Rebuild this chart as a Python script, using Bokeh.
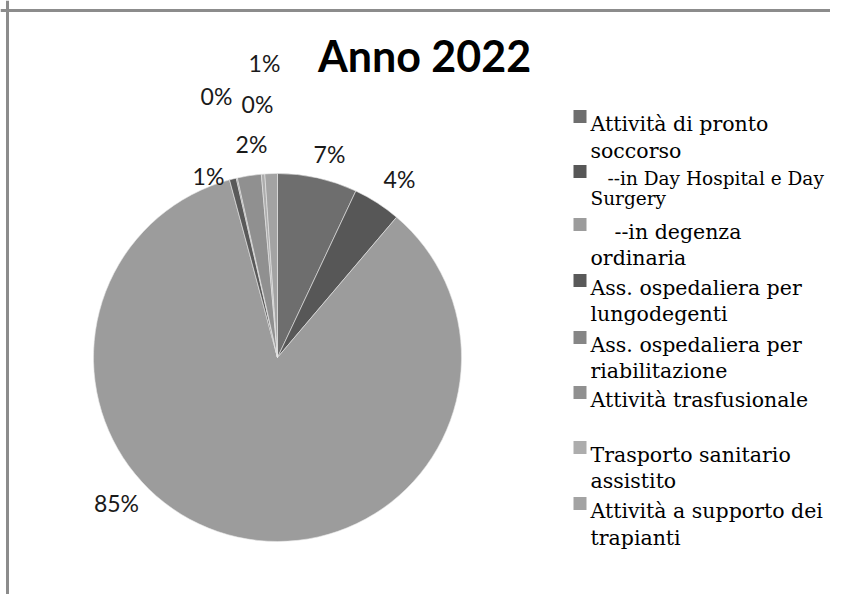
import numpy as np
from bokeh.plotting import figure
from bokeh.models import ColumnDataSource, Span, Range1d
from bokeh.core.properties import value
from bokeh.embed import file_html
from bokeh.resources import INLINE

# ---------------- data ----------------
title = "Anno 2022"
categories = [
    "Attività di pronto soccorso",
    "--in Day Hospital e Day Surgery",
    "--in degenza ordinaria",
    "Ass. ospedaliera per lungodegenti",
    "Ass. ospedaliera per riabilitazione",
    "Attività trasfusionale",
    "Trasporto sanitario assistito",
    "Attività a supporto dei trapianti",
]
shares = [7.0, 4.2, 84.6, 0.6, 0.1, 2.1, 0.3, 1.1]
legend_lines = [
    ["Attività di pronto", "soccorso"],
    ["--in Day Hospital e Day", "Surgery"],
    ["--in degenza", "ordinaria"],
    ["Ass. ospedaliera per", "lungodegenti"],
    ["Ass. ospedaliera per", "riabilitazione"],
    ["Attività trasfusionale"],
    ["Trasporto sanitario", "assistito"],
    ["Attività a supporto dei", "trapianti"],
]
colors = ["#6e6e6e", "#575757", "#9c9c9c", "#595959",
          "#868686", "#909090", "#adadad", "#a3a3a3"]

# ---------------- layout (page pixel coords) ----------------
W, H = 830, 594
OX, OY = 0, 0
def X(px):
    return px - OX
def Y(py):
    return H + OY - py

CX, CY, R = 277, 357, 184
label_pos = [(329, 153), (399, 178), (116, 502), (208, 175),
             (216, 95), (251, 143), (257, 103), (264, 62)]
base1 = [123, 178, 231, 287, 344, 399, 454, 510]
line_gap = [27, 20, 26, 26, 26, 0, 26, 27]
indent = [0, 17, 24, 0, 0, 0, 0, 0]
fsize = [20.5, 18.5, 20.5, 20.5, 20.5, 20.5, 20.5, 20.5]

# ---------------- figure ----------------
p = figure(width=W, height=H, output_backend="svg", toolbar_location=None,
           x_range=Range1d(0, W), y_range=Range1d(0, H), min_border=0,
           outline_line_color=None)
p.axis.visible = False
p.grid.visible = False
p.background_fill_color = "white"

# frame lines (left & top)
p.add_layout(Span(location=X(7), dimension="height", line_color="#8c8c8c", line_width=3))
p.add_layout(Span(location=Y(10), dimension="width", line_color="#8c8c8c", line_width=3))

# pie
vals = np.array(shares, dtype=float)
frac = vals / vals.sum()
cum = np.cumsum(frac)
prev = np.concatenate([[0.0], cum[:-1]])
start = np.pi / 2 - 2 * np.pi * prev
end = np.pi / 2 - 2 * np.pi * cum
src = ColumnDataSource(dict(start=start, end=end, color=colors, cat=categories))
p.wedge(x=X(CX), y=Y(CY), radius=R, start_angle="start", end_angle="end",
        direction="clock", fill_color="color", line_color="#e8e8e8",
        line_width=0.6, source=src)

# percentage labels
pct = [f"{int(round(v))}%" for v in shares]
lsrc = ColumnDataSource(dict(x=[X(a) for a, b in label_pos],
                             y=[Y(b) for a, b in label_pos], t=pct))
p.text(x="x", y="y", text="t", source=lsrc, text_font=value("Lato"),
       text_font_size="23px", text_align="center", text_baseline="middle",
       text_color="#1a1a1a")

# title
p.text(x=[X(424)], y=[Y(55)], text=[title], text_font=value("Lato"),
       text_font_style="bold", text_font_size="43px", text_align="center",
       text_baseline="middle", text_color="black")

# legend
p.rect(x=[X(579.5)] * len(colors), y=[Y(b - 7) for b in base1],
       width=13, height=13, fill_color=colors, line_color=None)
for i, lines in enumerate(legend_lines):
    xs, ys, ts = [], [], []
    for j, ln in enumerate(lines):
        xs.append(X(590 + (indent[i] if j == 0 else 0)))
        ys.append(Y(base1[i] + j * line_gap[i]))
        ts.append(ln)
    p.text(x=xs, y=ys, text=ts, text_font=value("DejaVu Serif"),
           text_font_size=f"{fsize[i]}px", text_align="left",
           text_baseline="alphabetic", text_color="black")

open("out.html", "w").write(file_html(p, INLINE))
